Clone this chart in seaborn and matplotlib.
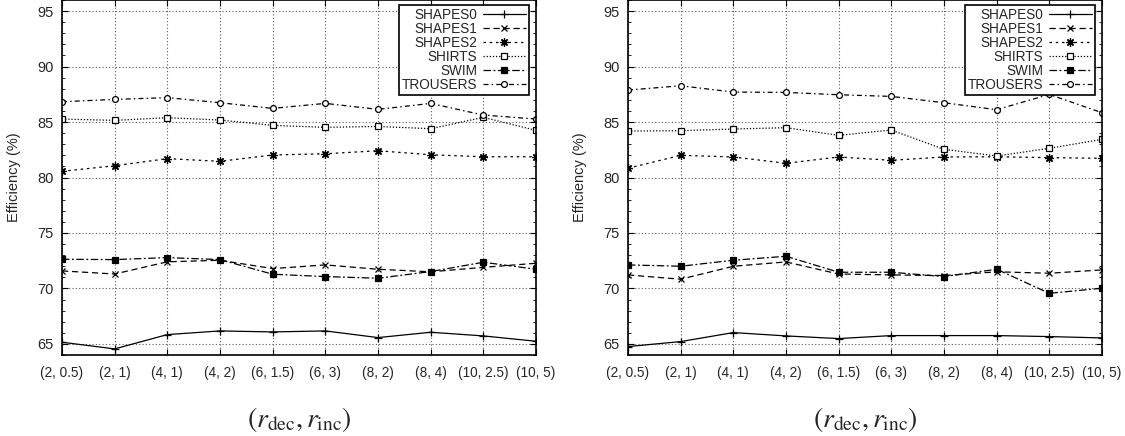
import numpy as np
import pandas as pd
import matplotlib
matplotlib.use("Agg")
import matplotlib.pyplot as plt
import seaborn as sns
from matplotlib.ticker import MultipleLocator, FixedLocator

categories = ["(2, 0.5)", "(2, 1)", "(4, 1)", "(4, 2)", "(6, 1.5)", "(6, 3)",
              "(8, 2)", "(8, 4)", "(10, 2.5)", "(10, 5)"]
series_names = ["SHAPES0", "SHAPES1", "SHAPES2", "SHIRTS", "SWIM", "TROUSERS"]

left_shapes0 = [65.15, 64.55, 65.84, 66.17, 66.08, 66.17, 65.57, 66.05, 65.72, 65.24]
left_shapes1 = [71.58, 71.30, 72.40, 72.54, 71.79, 72.12, 71.73, 71.50, 71.90, 72.27]
left_shapes2 = [80.56, 81.06, 81.70, 81.46, 82.03, 82.14, 82.41, 82.05, 81.87, 81.87]
left_shirts = [85.27, 85.15, 85.39, 85.18, 84.70, 84.52, 84.60, 84.40, 85.42, 84.25]
left_swim = [72.63, 72.60, 72.78, 72.60, 71.28, 71.07, 70.92, 71.52, 72.36, 71.73]
left_trousers = [86.83, 87.04, 87.20, 86.74, 86.23, 86.68, 86.14, 86.68, 85.63, 85.27]

right_shapes0 = [64.76, 65.21, 66.02, 65.72, 65.48, 65.75, 65.75, 65.75, 65.66, 65.54]
right_shapes1 = [71.22, 70.83, 72.00, 72.39, 71.30, 71.22, 71.16, 71.50, 71.37, 71.67]
right_shapes2 = [80.83, 82.00, 81.85, 81.28, 81.85, 81.55, 81.85, 81.87, 81.79, 81.73]
right_shirts = [84.19, 84.22, 84.37, 84.49, 83.80, 84.28, 82.54, 81.94, 82.63, 83.44]
right_swim = [72.12, 72.00, 72.54, 72.90, 71.46, 71.46, 71.07, 71.73, 69.56, 70.02]
right_trousers = [87.88, 88.27, 87.70, 87.67, 87.46, 87.31, 86.74, 86.11, 87.49, 85.84]

left_data = [left_shapes0, left_shapes1, left_shapes2, left_shirts, left_swim, left_trousers]
right_data = [right_shapes0, right_shapes1, right_shapes2, right_shirts, right_swim, right_trousers]

styles = {
    "SHAPES0": dict(linestyle="-", marker="+", ms=6, mfc="k", mew=0.9),
    "SHAPES1": dict(linestyle=(0, (5, 3)), marker="x", ms=4.5, mfc="k", mew=0.9),
    "SHAPES2": dict(linestyle=(0, (2, 3)), marker=(8, 2, 0), ms=6, mfc="k", mew=0.9),
    "SHIRTS": dict(linestyle=(0, (1, 1.5)), marker="s", ms=4.2, mfc="white", mew=0.9),
    "SWIM": dict(linestyle=(0, (6, 2, 1.5, 2)), marker="s", ms=5, mfc="k", mew=0.9),
    "TROUSERS": dict(linestyle=(0, (4, 2.5, 1.2, 2.5)), marker="o", ms=4.2, mfc="white", mew=0.9),
}

sns.set_style("white")
plt.rcParams["font.family"] = ["Liberation Sans", "DejaVu Sans"]
plt.rcParams["mathtext.fontset"] = "stix"

fig = plt.figure(figsize=(11.25, 4.36), dpi=100)
W, H = 1125.0, 436.0
positions = [(62, 536), (628, 1102)]
top_px, bot_px = 0.0, 355.0

x_idx = np.arange(len(categories))

for (x0, x1), data in zip(positions, [left_data, right_data]):
    ax = fig.add_axes([x0 / W, 1 - bot_px / H, (x1 - x0) / W, (bot_px - top_px) / H])
    for name, vals in zip(series_names, data):
        df = pd.DataFrame({"x": x_idx, "y": vals})
        st = styles[name]
        sns.lineplot(data=df, x="x", y="y", ax=ax, color="black", lw=0.9,
                     linestyle=st["linestyle"], marker=st["marker"], ms=st["ms"],
                     mfc=st["mfc"], mec="black", mew=st["mew"], label=name)
    ax.set_xlim(0, len(categories) - 1)
    ax.set_ylim(64, 96)
    ax.xaxis.set_major_locator(FixedLocator(x_idx))
    ax.set_xticklabels(categories, fontsize=9.8)
    ax.yaxis.set_major_locator(MultipleLocator(5))
    ax.yaxis.set_minor_locator(MultipleLocator(1))
    ax.tick_params(axis="y", labelsize=10.5)
    ax.tick_params(which="major", direction="in", length=4, width=0.8,
                   top=True, right=True, bottom=True, left=True, color="black")
    ax.tick_params(axis="x", pad=8)
    ax.tick_params(axis="y", pad=6)
    ax.tick_params(which="minor", direction="in", length=2, width=0.6,
                   left=True, right=True, color="black")
    ax.grid(True, which="major", linestyle=(0, (1, 2)), color="0.35", lw=0.8)
    for sp in ax.spines.values():
        sp.set_visible(True)
        sp.set_color("black")
        sp.set_linewidth(1.2)
    ax.set_ylabel("Efficiency (%)", fontsize=10.5, labelpad=12)
    ax.set_xlabel(r"$(r_{\mathrm{dec}}, r_{\mathrm{inc}})$", fontsize=20, labelpad=18)
    leg = ax.legend(loc="upper right", bbox_to_anchor=(0.985, 0.985),
                    fontsize=9.8, markerfirst=False, frameon=True, fancybox=False,
                    framealpha=1, edgecolor="black", labelspacing=0.0,
                    handlelength=3.2, handletextpad=0.4, borderpad=0.2,
                    borderaxespad=0.0)
    leg.get_frame().set_linewidth(1.2)

fig.savefig("out.png", dpi=100)
